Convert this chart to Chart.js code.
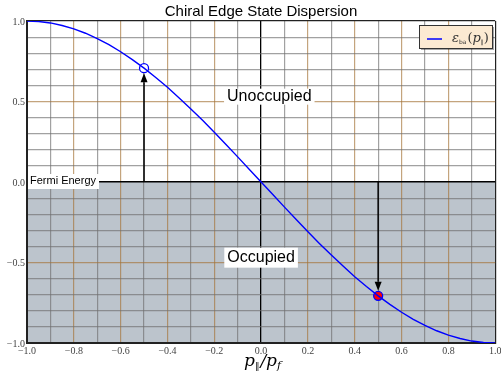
<!DOCTYPE html>
<html>
<head>
<meta charset="utf-8">
<script src="https://cdn.jsdelivr.net/npm/chart.js@4.4.1/dist/chart.umd.min.js"></script>
<style>
  html, body { margin: 0; padding: 0; background: #fff; }
  #wrap { width: 501px; height: 373px; }
</style>
</head>
<body>
<div id="wrap"><canvas id="chart" width="501" height="373"></canvas></div>
<script>
// dispersion curve, p/pf vs energy
const momentum = [-1.0, -0.95, -0.9, -0.85, -0.8, -0.75, -0.7, -0.65, -0.6, -0.55, -0.5,
  -0.45, -0.4, -0.35, -0.3, -0.25, -0.2, -0.15, -0.1, -0.05, 0.0,
  0.05, 0.1, 0.15, 0.2, 0.25, 0.3, 0.35, 0.4, 0.45, 0.5,
  0.55, 0.6, 0.65, 0.7, 0.75, 0.8, 0.85, 0.9, 0.95, 1.0];
const energy = [1.0, 0.997, 0.988, 0.972, 0.951, 0.924, 0.891, 0.853, 0.809, 0.76, 0.707,
  0.649, 0.588, 0.522, 0.454, 0.383, 0.309, 0.233, 0.156, 0.078, 0.0,
  -0.078, -0.156, -0.233, -0.309, -0.383, -0.454, -0.522, -0.588, -0.649, -0.707,
  -0.76, -0.809, -0.853, -0.891, -0.924, -0.951, -0.972, -0.988, -0.997, -1.0];

// marked states
const emptyState = { x: -0.5, y: 0.707 };
const filledState = { x: 0.5, y: -0.707 };
const fermiLevel = 0.0;

const xTicks = [-1.0, -0.8, -0.6, -0.4, -0.2, 0.0, 0.2, 0.4, 0.6, 0.8, 1.0];
const yTicks = [-1.0, -0.5, 0.0, 0.5, 1.0];

const COLORS = {
  curve:  '#0000ff',
  fill:   '#bcc4cc',
  grid:   'rgba(110,110,110,0.65)',
  major:  'rgba(165,115,55,0.65)',
  frame:  '#222',
  tick:   '#444',
  legend: '#fcead2',
};

const near = (a, b) => Math.abs(a - b) < 1e-6;
const fmt = v => (v < 0 ? '\u2212' : '') + Math.abs(v).toFixed(1);

function gridColor(v) {
  if (near(v, 0)) return '#000';
  if (near(Math.abs(v), 1)) return COLORS.frame;
  return near(Math.round(v * 10) % 2, 0) ? COLORS.major : COLORS.grid;
}
function gridColorY(v) {
  if (near(v, 0)) return '#000';
  if (near(Math.abs(v), 1)) return COLORS.frame;
  return near(Math.abs(v), 0.5) ? COLORS.major : COLORS.grid;
}

function labelBox(ctx, text, cx, cy, font, padX, padY) {
  ctx.font = font;
  const w = ctx.measureText(text).width;
  ctx.fillStyle = '#fff';
  ctx.fillRect(cx - w / 2 - padX, cy - 8 - padY, w + padX * 2, 16 + padY * 2);
  ctx.fillStyle = '#000';
  ctx.textAlign = 'center';
  ctx.textBaseline = 'middle';
  ctx.fillText(text, cx, cy);
}

const decor = {
  id: 'decor',
  beforeDraw(chart) {
    const { ctx, chartArea, scales: { x, y } } = chart;
    const top = y.getPixelForValue(fermiLevel);
    ctx.save();
    ctx.fillStyle = COLORS.fill;
    ctx.fillRect(chartArea.left, top, chartArea.right - chartArea.left, chartArea.bottom - top);
    ctx.restore();
  },
  beforeDatasetsDraw(chart) {
    const { ctx, scales: { x, y } } = chart;
    ctx.save();
    ctx.strokeStyle = '#000';
    ctx.fillStyle = '#000';
    ctx.lineWidth = 1.5;
    [emptyState, filledState].forEach(s => {
      const px = x.getPixelForValue(s.x);
      const y0 = y.getPixelForValue(fermiLevel);
      const dir = s.y > fermiLevel ? -1 : 1;
      const tip = y.getPixelForValue(s.y) - dir * 5;
      const base = tip - dir * 9;
      ctx.beginPath();
      ctx.moveTo(px, y0);
      ctx.lineTo(px, base);
      ctx.stroke();
      ctx.beginPath();
      ctx.moveTo(px, tip);
      ctx.lineTo(px - 3.5, base);
      ctx.lineTo(px + 3.5, base);
      ctx.closePath();
      ctx.fill();
    });
    ctx.restore();
  },
  afterDraw(chart) {
    const { ctx, chartArea, scales: { x, y } } = chart;
    ctx.save();

    // tick labels
    ctx.fillStyle = COLORS.tick;
    ctx.font = '10px "Liberation Serif"';
    ctx.textAlign = 'center';
    ctx.textBaseline = 'middle';
    xTicks.forEach(v => ctx.fillText(fmt(v), x.getPixelForValue(v), chartArea.bottom + 8));
    ctx.textAlign = 'right';
    yTicks.forEach(v => ctx.fillText(fmt(v), chartArea.left - 2, y.getPixelForValue(v) + 1));

    // title
    ctx.fillStyle = '#000';
    ctx.font = '15px "Liberation Sans"';
    ctx.textAlign = 'center';
    ctx.fillText('Chiral Edge State Dispersion', 261, 12);

    // region labels
    labelBox(ctx, 'Unoccupied', x.getPixelForValue(0.035), y.getPixelForValue(0.53), '16px "Liberation Sans"', 3, 0);
    labelBox(ctx, 'Occupied', x.getPixelForValue(0.0), y.getPixelForValue(-0.47), '16px "Liberation Sans"', 3, 2);
    ctx.font = '11px "Liberation Sans"';
    const fw = ctx.measureText('Fermi Energy').width;
    const fy = y.getPixelForValue(fermiLevel);
    ctx.fillStyle = '#fff';
    ctx.fillRect(chartArea.left + 1, fy - 8, fw + 5, 15);
    ctx.fillStyle = '#000';
    ctx.textAlign = 'left';
    ctx.fillText('Fermi Energy', chartArea.left + 3, fy - 1);

    // x axis title  p_par / p_f
    ctx.font = 'italic 17px "DejaVu Serif"';
    ctx.textAlign = 'left';
    ctx.textBaseline = 'alphabetic';
    let cx = 244;
    const by = 366;
    ctx.fillText('p', cx, by); cx += ctx.measureText('p').width;
    ctx.font = '9px "DejaVu Sans"';
    ctx.fillText('\u2225', cx, by + 3); cx += ctx.measureText('\u2225').width + 1;
    ctx.font = 'italic 17px "DejaVu Serif"';
    ctx.fillText('/', cx, by); cx += ctx.measureText('/').width;
    ctx.fillText('p', cx, by); cx += ctx.measureText('p').width;
    ctx.font = 'italic 11px "DejaVu Serif"';
    ctx.fillText('f', cx, by + 3);

    // legend
    const lx = 419, ly = 25, lw = 73, lh = 23;
    ctx.fillStyle = 'rgba(0,0,0,0.35)';
    ctx.fillRect(lx + 2, ly + 2, lw, lh);
    ctx.fillStyle = COLORS.legend;
    ctx.fillRect(lx, ly, lw, lh);
    ctx.strokeStyle = '#333';
    ctx.lineWidth = 1;
    ctx.strokeRect(lx + 0.5, ly + 0.5, lw, lh);
    ctx.strokeStyle = COLORS.curve;
    ctx.lineWidth = 1.5;
    ctx.beginPath();
    ctx.moveTo(lx + 8, ly + 14);
    ctx.lineTo(lx + 23, ly + 14);
    ctx.stroke();
    ctx.fillStyle = '#333';
    ctx.textBaseline = 'alphabetic';
    let tx = lx + 33;
    const tb = ly + 17;
    ctx.font = 'italic 13px "DejaVu Serif"';
    ctx.fillText('\u03b5', tx, tb); tx += ctx.measureText('\u03b5').width;
    ctx.font = '6px "DejaVu Sans"';
    ctx.fillText('ba', tx, tb + 2); tx += ctx.measureText('ba').width + 1;
    ctx.font = '13px "DejaVu Serif"';
    ctx.fillText('(', tx, tb); tx += ctx.measureText('(').width;
    ctx.font = 'italic 13px "DejaVu Serif"';
    ctx.fillText('p', tx, tb); tx += ctx.measureText('p').width;
    ctx.font = '6px "DejaVu Sans"';
    ctx.fillText('\u2225', tx, tb + 2); tx += ctx.measureText('\u2225').width;
    ctx.font = '13px "DejaVu Serif"';
    ctx.fillText(')', tx, tb);

    ctx.restore();
  },
};

new Chart(document.getElementById('chart'), {
  type: 'scatter',
  data: {
    datasets: [
      {
        label: 'dispersion',
        data: momentum.map((p, i) => ({ x: p, y: energy[i] })),
        showLine: true,
        borderColor: COLORS.curve,
        borderWidth: 1.4,
        pointRadius: 0,
        fill: false,
      },
      {
        label: 'empty',
        data: [emptyState],
        pointRadius: 4.5,
        pointBackgroundColor: '#fff',
        pointBorderColor: COLORS.curve,
        pointBorderWidth: 1.3,
      },
      {
        label: 'filled',
        data: [filledState],
        pointRadius: 4.5,
        pointBackgroundColor: '#ff0000',
        pointBorderColor: COLORS.curve,
        pointBorderWidth: 1.3,
      },
    ],
  },
  options: {
    responsive: false,
    animation: false,
    events: [],
    layout: { padding: { left: 27, top: 21, right: 5, bottom: 30 } },
    plugins: { legend: { display: false }, title: { display: false }, tooltip: { enabled: false } },
    scales: {
      x: {
        type: 'linear', min: -1, max: 1,
        ticks: { display: false, stepSize: 0.1 },
        grid: { drawTicks: false, color: c => gridColor(c.tick.value), lineWidth: c => near(c.tick.value, 0) ? 1.3 : 1.2 },
        border: { color: COLORS.frame, width: 2 },
      },
      y: {
        type: 'linear', min: -1, max: 1,
        ticks: { display: false, stepSize: 0.1 },
        grid: { drawTicks: false, color: c => gridColorY(c.tick.value), lineWidth: c => near(c.tick.value, 0) ? 1.5 : 1.2 },
        border: { color: COLORS.frame, width: 2 },
      },
    },
  },
  plugins: [decor],
});
</script>
</body>
</html>
